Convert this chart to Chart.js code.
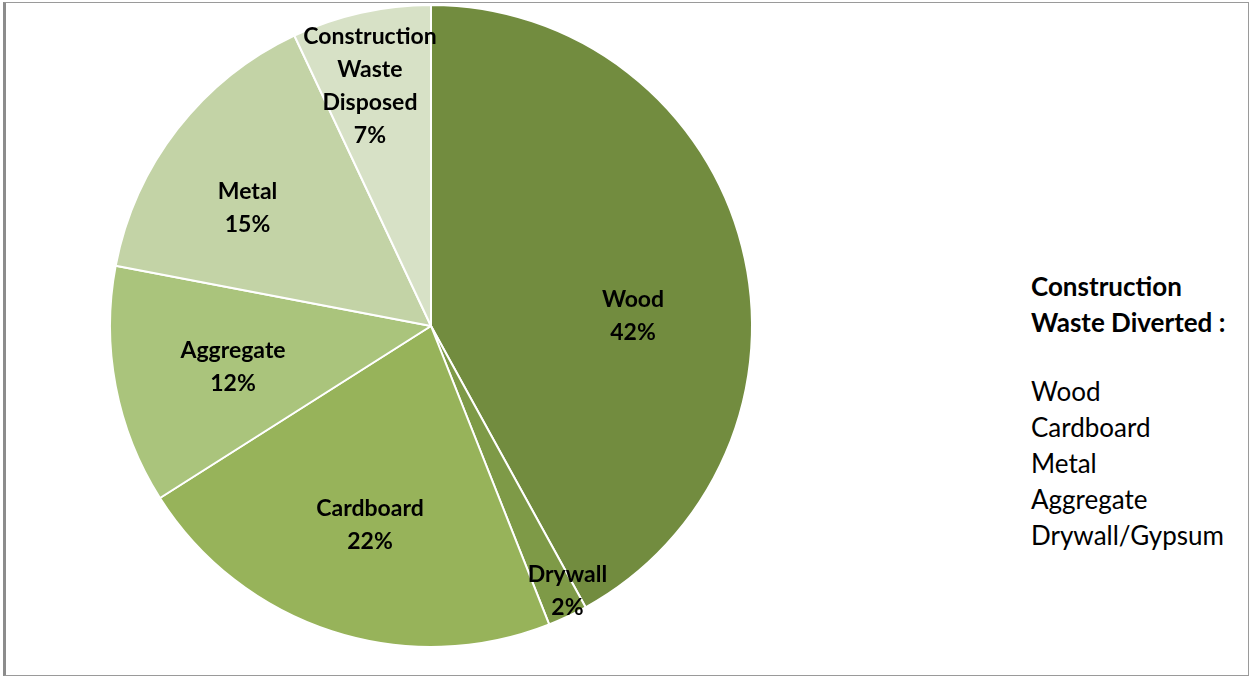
<!DOCTYPE html>
<html>
<head>
<meta charset="utf-8">
<script src="https://cdn.jsdelivr.net/npm/chart.js@4.4.1/dist/chart.umd.min.js"></script>
<style>
  body{margin:0;background:#fff;font-family:Lato,"Open Sans",sans-serif;}
  #frame{position:absolute;left:3px;top:2px;width:1246px;height:674px;border:1px solid #9a9a9a;border-left:3px solid #8c8c8c;box-sizing:border-box;}
  #wrap{position:absolute;left:0;top:0;width:862px;height:652px;}
  #legend{position:absolute;left:1031px;top:268px;font-size:26px;line-height:36px;color:#000;}
  #legend b{display:block;}
  #legend .gap{height:33px;}
</style>
</head>
<body>
<div id="frame"></div>
<div id="wrap"><canvas id="myChart"></canvas></div>
<div id="legend"></div>
<script>
var labels1=["Wood","Drywall","Cardboard","Aggregate","Metal","Construction Waste Disposed"];
var values1=[42,2,22,12,15,7];
var labelLines=[["Wood"],["Drywall"],["Cardboard"],["Aggregate"],["Metal"],["Construction","Waste","Disposed"]];
var colors1=["#728c3f","#7e9a47","#97b35a","#aac47c","#c3d3a6","#d7e1c6"];
var legendTitle=["Construction","Waste Diverted :"];
var legendItems=["Wood","Cardboard","Metal","Aggregate","Drywall/Gypsum"];

// label placement tweaks: fraction of radius, angle shift in degrees
var labelRad=[0.63,0.93,0.65,0.63,0.68,0.77];
var labelShift=[11.7,-2,-1,-1,-5,-1.7];

var lg=document.getElementById("legend");
lg.innerHTML="<b>"+legendTitle.join("</b><b>")+"</b><div class='gap'></div>"+legendItems.join("<br>");

var pieLabels={
  id:"pieLabels",
  afterDatasetsDraw:function(chart){
    var ctx=chart.ctx;
    var meta=chart.getDatasetMeta(0);
    ctx.save();
    ctx.fillStyle="#000";
    ctx.font="bold 23px Lato";
    ctx.textAlign="center";
    ctx.textBaseline="middle";
    meta.data.forEach(function(arc,i){
      var p=arc.getProps(["x","y","startAngle","endAngle","outerRadius"],true);
      var a=(p.startAngle+p.endAngle)/2+labelShift[i]*Math.PI/180;
      var r=p.outerRadius*labelRad[i];
      var cx=p.x+Math.cos(a)*r, cy=p.y+Math.sin(a)*r;
      var lines=labelLines[i].concat([values1[i]+"%"]);
      var lh=33;
      var y0=cy-(lines.length-1)*lh/2;
      lines.forEach(function(t,k){ctx.fillText(t,cx,y0+k*lh);});
    });
    ctx.restore();
  }
};

let myChart=document.getElementById("myChart").getContext("2d");
let pieChart=new Chart(myChart,{
  type:"pie",
  data:{
    labels:labels1,
    datasets:[{
      data:values1,
      backgroundColor:colors1,
      borderColor:"#ffffff",
      borderWidth:2
    }]
  },
  options:{
    responsive:true,
    maintainAspectRatio:false,
    animation:false,
    layout:{padding:{top:4,bottom:4}},
    plugins:{legend:{display:false},tooltip:{enabled:false}}
  },
  plugins:[pieLabels]
});
</script>
</body>
</html>
